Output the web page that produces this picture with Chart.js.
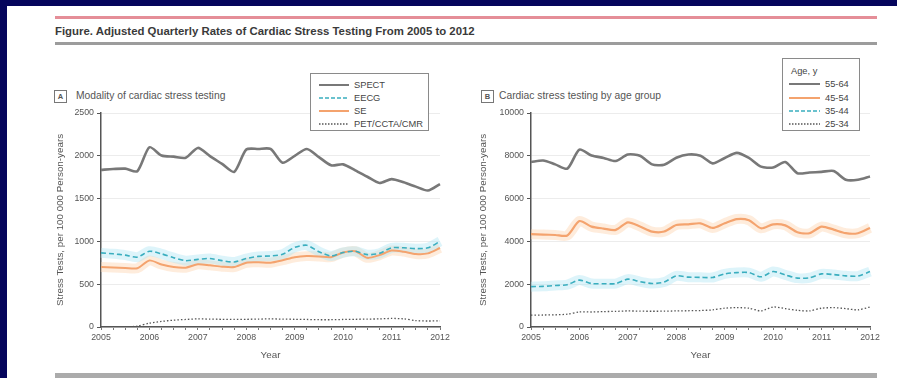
<!DOCTYPE html>
<html>
<head>
<meta charset="utf-8">
<script src="https://cdn.jsdelivr.net/npm/chart.js@4.4.0/dist/chart.umd.min.js"></script>
<style>
  html, body { margin: 0; padding: 0; }
  body { width: 897px; height: 378px; position: relative; overflow: hidden; background: #05055c;
         font-family: "Liberation Sans", Arial, sans-serif; color: #444; }
  .abs { position: absolute; }
  #sheet { left: 7px; top: 6px; right: 0; bottom: 0; background: #fff; }
  #ruleRed { left: 55px; top: 16px; width: 822px; height: 3px; background: #e58e98; }
  #ruleGray { left: 55px; top: 42px; width: 822px; height: 3px; background: #9c9c9c; }
  #ruleBottom { left: 55px; top: 373px; width: 822px; height: 5px; background: #ababab; }
  #title { left: 55px; top: 25px; font-size: 11.4px; font-weight: bold; color: #3a3a3a; white-space: nowrap; line-height: 13px; }
  .tag { width: 11px; height: 11px; border: 1px solid #777; font-size: 7.5px; font-weight: bold; text-align: center; line-height: 11px; color: #555; }
  .panelTitle { font-size: 10.3px; color: #555; white-space: nowrap; line-height: 12px; }
  .legend { border: 1px solid #8a8a8a; background: #fff; }
  .legend .row { position: absolute; height: 12px; line-height: 12px; font-size: 9.3px; color: #444; white-space: nowrap; }
  .legend svg { position: absolute; top: 3px; }
  canvas { position: absolute; }
</style>
</head>
<body>
<div id="sheet" class="abs"></div>
<div id="ruleRed" class="abs"></div>
<div id="title" class="abs">Figure. Adjusted Quarterly Rates of Cardiac Stress Testing From 2005 to 2012</div>
<div id="ruleGray" class="abs"></div>

<div class="abs tag" style="left:54px;top:90px">A</div>
<div class="abs panelTitle" style="left:76px;top:90px">Modality of cardiac stress testing</div>
<div class="abs tag" style="left:481px;top:90px">B</div>
<div class="abs panelTitle" style="left:499px;top:90px">Cardiac stress testing by age group</div>

<canvas id="chartA" width="420" height="272" style="left:40px;top:100px"></canvas>
<canvas id="chartB" width="420" height="272" style="left:470px;top:100px"></canvas>

<div id="legendA" class="abs legend" style="left:310px;top:73px;width:117px;height:56px"></div>
<div id="legendB" class="abs legend" style="left:782px;top:58px;width:76px;height:71px"></div>

<div id="ruleBottom" class="abs"></div>

<script>
// Quarterly categories, 2005 Q1 through 2012 Q1
const years = [2005, 2006, 2007, 2008, 2009, 2010, 2011, 2012];
const quarterLabels = [];
years.forEach(y => {
  const qs = y === 2012 ? ['Q1'] : ['Q1', 'Q2', 'Q3', 'Q4'];
  qs.forEach(q => quarterLabels.push(y + ' ' + q));
});

// Panel A: modality, tests per 100 000 person-years
const spect = [1836, 1845, 1850, 1820, 2100, 2004, 1990, 1977, 2092, 1996, 1905, 1812, 2073, 2080, 2080, 1920,
               2000, 2080, 1985, 1889, 1900, 1830, 1755, 1682, 1728, 1690, 1640, 1594, 1670];
const eecg  = [866, 855, 840, 816, 885, 855, 810, 775, 790, 800, 775, 760, 800, 825, 830, 850,
               930, 955, 880, 830, 870, 885, 845, 860, 925, 925, 915, 925, 1000];
const se    = [701, 695, 690, 686, 778, 730, 700, 693, 732, 720, 705, 701, 751, 755, 751, 780,
               815, 828, 825, 816, 870, 885, 808, 840, 893, 880, 853, 860, 923];
const petCctaCmr = [0, 0, 0, 10, 45, 65, 80, 88, 95, 92, 90, 88, 90, 92, 95, 92,
                    90, 88, 85, 85, 88, 90, 92, 95, 100, 95, 75, 70, 72];

// Panel B: age groups, tests per 100 000 person-years
const age55to64 = [7710, 7780, 7600, 7400, 8290, 8015, 7900, 7755, 8060, 8000, 7600, 7580, 7908, 8060, 8000, 7646,
                   7900, 8138, 7900, 7494, 7450, 7710, 7187, 7220, 7250, 7290, 6883, 6880, 7034];
const age45to54 = [4336, 4320, 4300, 4276, 4950, 4690, 4600, 4537, 4887, 4700, 4460, 4460, 4767, 4800, 4843, 4628,
                   4850, 5044, 4990, 4613, 4797, 4750, 4429, 4380, 4690, 4550, 4383, 4383, 4628];
const age35to44 = [1885, 1900, 1940, 1977, 2191, 2031, 2020, 2031, 2237, 2120, 2031, 2100, 2390, 2330, 2320, 2314,
                   2480, 2543, 2543, 2345, 2590, 2437, 2283, 2300, 2482, 2450, 2390, 2380, 2590];
const age25to34 = [552, 560, 570, 598, 705, 700, 720, 730, 751, 740, 735, 740, 751, 760, 770, 800,
                   880, 904, 880, 751, 935, 860, 780, 751, 880, 904, 860, 800, 935];

const yTicksA = [0, 500, 1000, 1500, 2000, 2500];
const yTicksB = [0, 2000, 4000, 6000, 8000, 10000];

const GRAY = '#787878', TEAL = '#3aaebf', ORANGE = '#f4a36e', DARK = '#555';
const BAND_BLUE = 'rgba(180,230,243,0.45)', BAND_ORANGE = 'rgba(252,212,178,0.45)';

function line(label, data, color, width, dash, order) {
  return { label, data, borderColor: color, borderWidth: width, borderDash: dash || [], order: order || 0,
           fill: false, pointRadius: 0 };
}
function band(data, color) {
  return { label: '', data, borderColor: color, borderWidth: 10, order: 10, fill: false, pointRadius: 0,
           borderCapStyle: 'butt' };
}

const tickFont = { family: 'Liberation Sans', size: 8.8 };
const titleFont = { family: 'Liberation Sans', size: 9.8 };

function buildChart(id, datasets, ticks, yTitlePad) {
  const yMax = ticks[ticks.length - 1];
  return new Chart(document.getElementById(id), {
    type: 'line',
    data: { labels: quarterLabels, datasets },
    options: {
      responsive: false,
      animation: false,
      layout: { padding: { top: 13, right: 20, bottom: 0, left: 0 } },
      plugins: { legend: { display: false }, tooltip: { enabled: false } },
      elements: { line: { tension: 0.25, borderJoinStyle: 'round' } },
      scales: {
        x: {
          type: 'category',
          offset: false,
          afterFit: s => { s.height = 45; },
          border: { color: '#555', width: 1.5 },
          grid: { drawOnChartArea: false, drawTicks: true, tickLength: 3, color: '#777' },
          ticks: {
            autoSkip: false, maxRotation: 0, minRotation: 0, padding: 2, color: '#555', font: tickFont,
            callback: function (v, i) { return i % 4 === 0 ? this.getLabelForValue(v).slice(0, 4) : ''; }
          },
          title: { display: true, text: 'Year', color: '#555', font: titleFont, padding: { top: 0, bottom: 11 } }
        },
        y: {
          min: 0, max: yMax,
          afterFit: s => { s.width = 61; },
          afterBuildTicks: s => { s.ticks = ticks.map(v => ({ value: v })); },
          border: { color: '#555', width: 1.5 },
          grid: { color: '#ececec', tickColor: '#555', tickLength: 4, lineWidth: 1 },
          ticks: { color: '#555', font: tickFont, padding: 3, callback: v => String(v) },
          title: { display: true, text: 'Stress Tests, per 100 000 Person-years', color: '#555', font: titleFont,
                   padding: { top: yTitlePad, bottom: 0 } }
        }
      }
    }
  });
}

buildChart('chartA', [
  line('SPECT', spect, GRAY, 2.6),
  line('EECG', eecg, TEAL, 1.6, [5, 3]),
  line('SE', se, ORANGE, 2),
  line('PET/CCTA/CMR', petCctaCmr, DARK, 1.3, [1.5, 2]),
  band(eecg, BAND_BLUE),
  band(se, BAND_ORANGE)
], yTicksA, 14);

buildChart('chartB', [
  line('55-64', age55to64, GRAY, 2.6),
  line('45-54', age45to54, ORANGE, 2.2),
  line('35-44', age35to44, TEAL, 1.6, [5, 3]),
  line('25-34', age25to34, DARK, 1.3, [1.5, 2]),
  band(age45to54, BAND_ORANGE),
  band(age35to44, BAND_BLUE)
], yTicksB, 7);

// Legends drawn as HTML boxes with short line samples
function legend(el, heading, items, lineX, lineW, textX, firstY, step) {
  const box = document.getElementById(el);
  let y = firstY;
  if (heading) {
    const h = document.createElement('div');
    h.className = 'row';
    h.style.left = '8px'; h.style.top = (y - 6) + 'px';
    h.textContent = heading;
    box.appendChild(h);
    y += step;
  }
  items.forEach(it => {
    const r = document.createElement('div');
    r.className = 'row';
    r.style.left = '0px'; r.style.top = (y - 6) + 'px'; r.style.width = '100%';
    const dash = it.dash ? ` stroke-dasharray="${it.dash}"` : '';
    r.innerHTML = `<svg width="${lineW}" height="6" style="left:${lineX}px"><line x1="0" y1="3" x2="${lineW}" y2="3" stroke="${it.color}" stroke-width="${it.w}"${dash}/></svg>` +
                  `<span style="position:absolute;left:${textX}px">${it.label}</span>`;
    box.appendChild(r);
    y += step;
  });
}
legend('legendA', null, [
  { label: 'SPECT', color: GRAY, w: 2 },
  { label: 'EECG', color: TEAL, w: 1.6, dash: '4 2' },
  { label: 'SE', color: ORANGE, w: 2 },
  { label: 'PET/CCTA/CMR', color: DARK, w: 1.3, dash: '1.5 1.5' }
], 8, 30, 43, 11, 13);
legend('legendB', 'Age, y', [
  { label: '55-64', color: GRAY, w: 2 },
  { label: '45-54', color: ORANGE, w: 2 },
  { label: '35-44', color: TEAL, w: 1.6, dash: '4 2' },
  { label: '25-34', color: DARK, w: 1.3, dash: '1.5 1.5' }
], 6, 31, 42, 12, 13.3);
</script>
</body>
</html>
